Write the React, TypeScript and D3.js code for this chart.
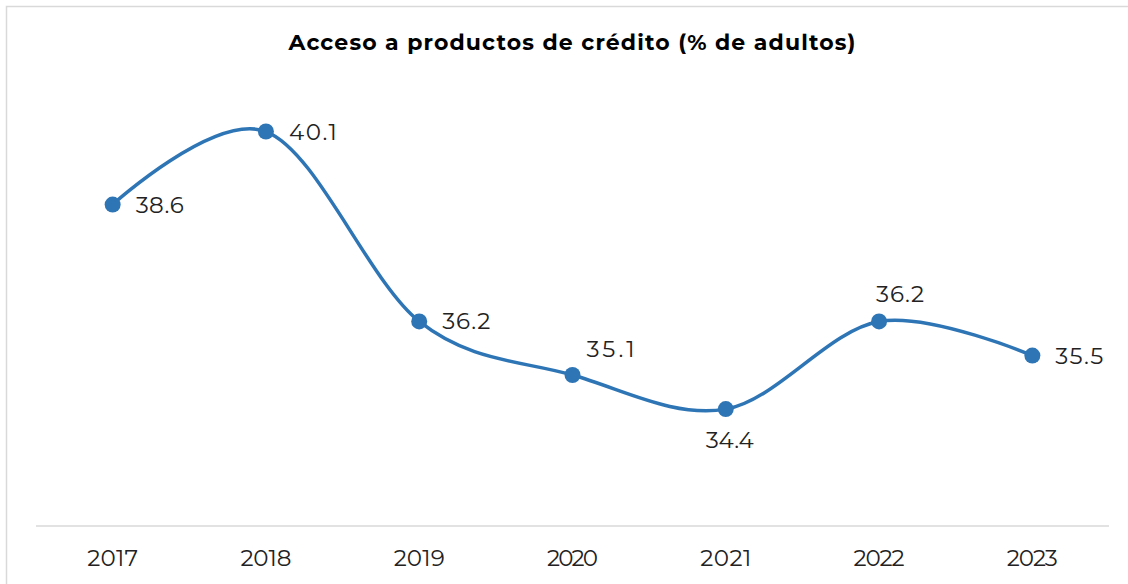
import React from "react";
import * as d3 from "d3";

const years = ["2017", "2018", "2019", "2020", "2021", "2022", "2023"];
const values = [38.6, 40.1, 36.2, 35.1, 34.4, 36.2, 35.5];
// label placement relative to point: r = right, a = above, b = below
const labelPos = ["r", "r", "r", "ar", "b", "a", "r"];
const title = "Acceso a productos de crédito (% de adultos)";
const yDomain = [32, 42];

const W = 1128;
const H = 584;
const FONT = "Montserrat, 'Open Sans', Lato, sans-serif";
const BLUE = "#2E75B6";

export default function App() {
  const x = d3.scaleBand<string>().domain(years).range([36, 1109]);
  const y = d3.scaleLinear().domain(yDomain).range([526, 39]);
  const cx = (i: number) => (x(years[i]) as number) + x.bandwidth() / 2;
  const line = d3
    .line<number>()
    .x((_, i) => cx(i))
    .y((v) => y(v))
    .curve(d3.curveCardinal.tension(0));
  const path = line(values) || "";

  return (
    <svg
      width={W}
      height={H}
      style={{ position: "absolute", left: 0, top: 0, display: "block" }}
    >
      <rect x={0} y={0} width={W} height={H} fill="#fff" />
      <rect x={6.5} y={6.5} width={W + 20} height={H + 20} fill="#fff" stroke="#d9d9d9" strokeWidth={1.5} />
      <text
        x={572}
        y={50}
        textAnchor="middle"
        fontFamily={FONT}
        fontWeight={700}
        fontSize={22}
        fill="#000"
        textLength={567}
        lengthAdjust="spacing"
      >
        {title}
      </text>
      <line x1={36} x2={1109} y1={526} y2={526} stroke="#d9d9d9" strokeWidth={1.5} />
      {years.map((yr, i) => (
        <text
          key={yr}
          x={cx(i)}
          y={566}
          textAnchor="middle"
          fontFamily={FONT}
          fontSize={23}
          fill="#222"
          textLength={51}
          lengthAdjust="spacing"
        >
          {yr}
        </text>
      ))}
      <path d={path} fill="none" stroke={BLUE} strokeWidth={3.5} />
      {values.map((v, i) => (
        <circle key={i} cx={cx(i)} cy={y(v)} r={8} fill={BLUE} />
      ))}
      {values.map((v, i) => {
        const p = labelPos[i];
        let tx = cx(i);
        let ty = y(v);
        let anchor: "start" | "middle" = "start";
        if (p === "r") {
          tx += 23;
          ty += 8;
        } else if (p === "ar") {
          tx += 14;
          ty -= 18;
        } else if (p === "a") {
          tx += 21;
          ty -= 19;
          anchor = "middle";
        } else if (p === "b") {
          tx += 4;
          ty += 39;
          anchor = "middle";
        }
        return (
          <text
            key={"l" + i}
            x={tx}
            y={ty}
            textAnchor={anchor}
            fontFamily={FONT}
            fontSize={23}
            fill="#222"
            textLength={48}
            lengthAdjust="spacing"
          >
            {v.toFixed(1)}
          </text>
        );
      })}
    </svg>
  );
}
